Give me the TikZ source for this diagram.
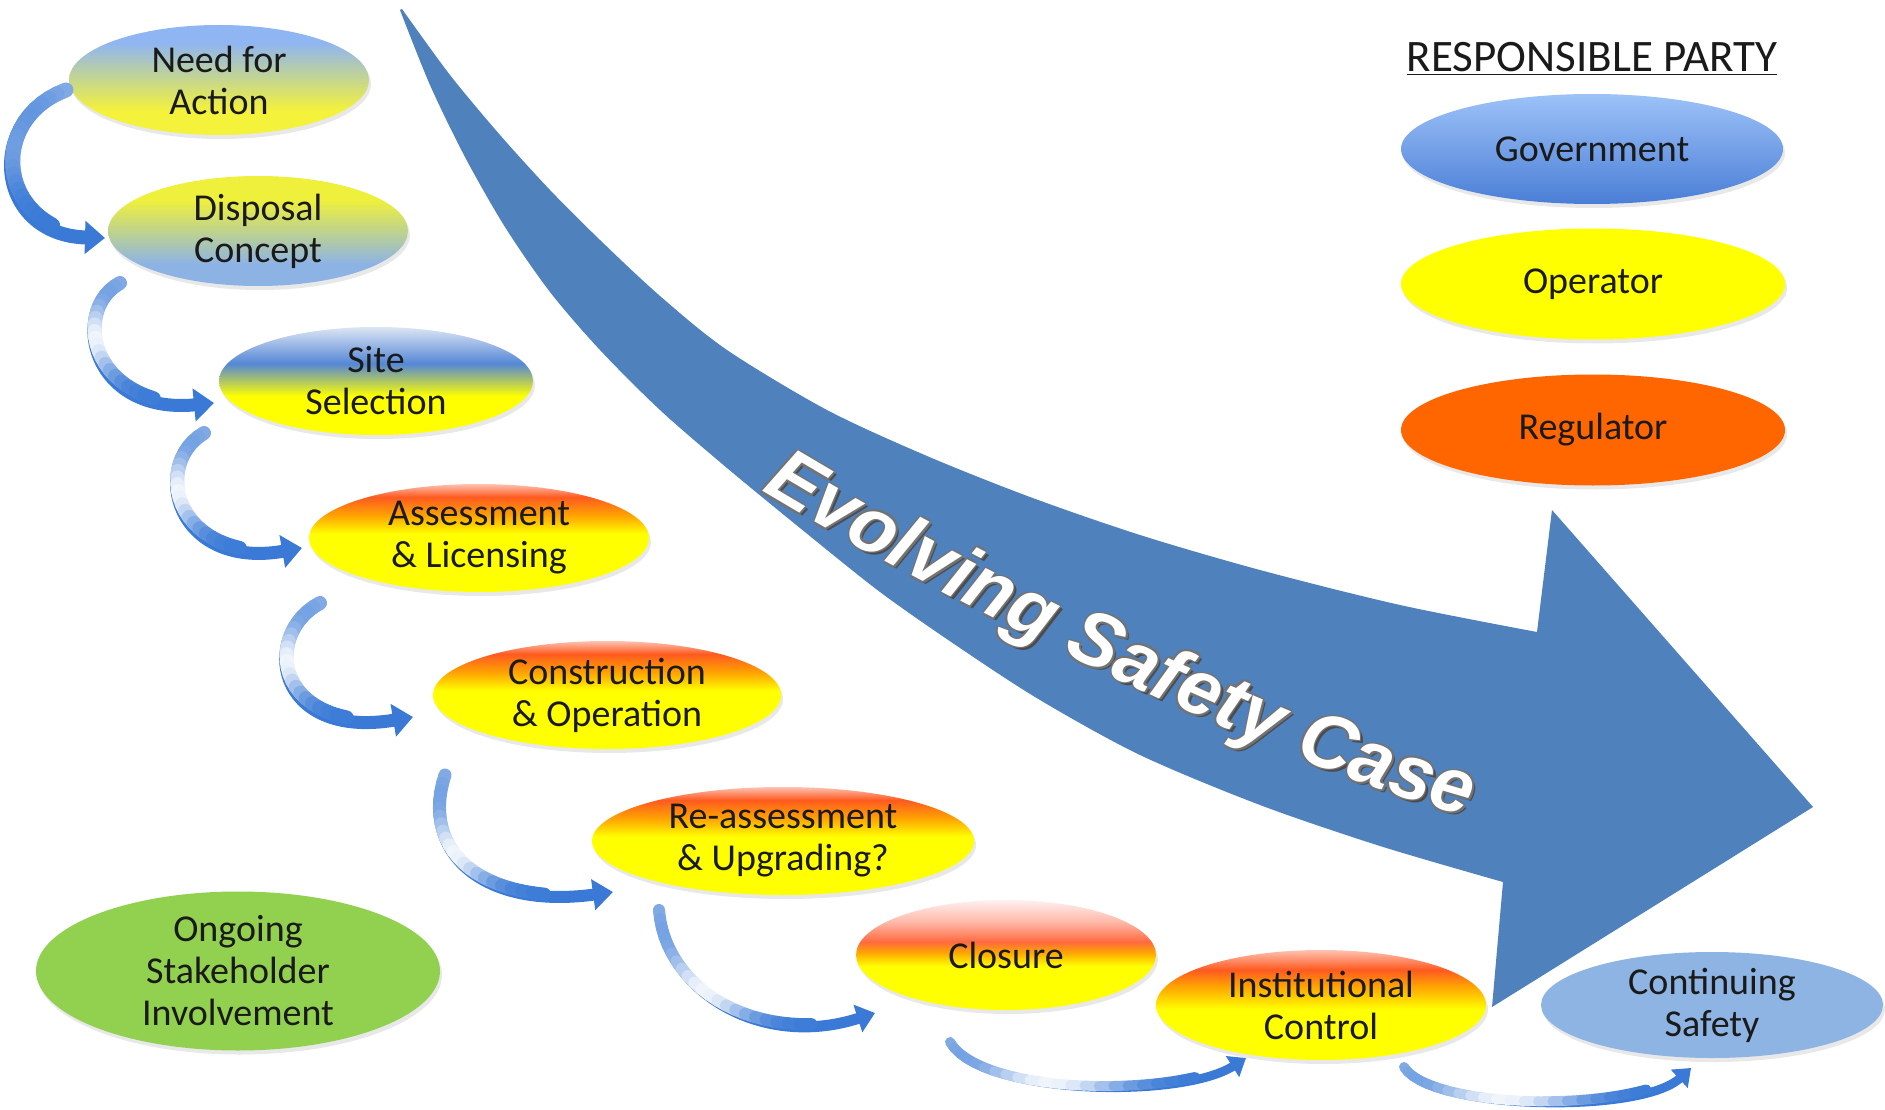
\documentclass[tikz,border=0pt]{standalone}
\usepackage{fontspec}
\setmainfont{Carlito}
\newfontfamily\bigfont{Liberation Sans}
\usetikzlibrary{shapes.geometric,shadows,calc,decorations.text,arrows.meta}

\definecolor{bandblue}{HTML}{4F81BD}
\definecolor{arrblue}{HTML}{3A7AD6}
\definecolor{cY}{HTML}{FFFF00}
\definecolor{nY}{HTML}{F4F23A}
\definecolor{nB}{HTML}{8FB5F2}
\definecolor{dY}{HTML}{EEF03C}
\definecolor{dB}{HTML}{8DB3E5}
\definecolor{sB}{HTML}{5587D5}
\definecolor{sP}{HTML}{DCE5F4}
\definecolor{oO}{HTML}{FFA800}
\definecolor{oR}{HTML}{FF5A20}
\definecolor{oP}{HTML}{FFC2B2}
\definecolor{cR}{HTML}{FF6A40}
\definecolor{cP}{HTML}{FFF0F0}
\definecolor{cPk}{HTML}{FFB8A8}
\definecolor{gB1}{HTML}{4A7ED6}
\definecolor{gB2}{HTML}{9DC2F8}
\definecolor{contB}{HTML}{8EB4E3}
\definecolor{ongG}{HTML}{92D050}
\definecolor{regO}{HTML}{FF6600}
\definecolor{txt}{HTML}{1A1A1A}

\pgfdeclareverticalshading{shNeed}{100bp}{color(0bp)=(nY); color(36bp)=(nY); color(67bp)=(nB); color(100bp)=(nB)}
\pgfdeclareverticalshading{shDisp}{100bp}{color(0bp)=(dB); color(35bp)=(dB); color(64bp)=(dY); color(100bp)=(dY)}
\pgfdeclareverticalshading{shSite}{100bp}{color(0bp)=(cY); color(43bp)=(cY); color(58bp)=(sB); color(75bp)=(sP); color(100bp)=(sP)}
\pgfdeclareverticalshading{shOrange}{100bp}{color(0bp)=(cY); color(52bp)=(cY); color(60bp)=(oO); color(69bp)=(oR); color(75bp)=(oP); color(100bp)=(oP)}
\pgfdeclareverticalshading{shClos}{100bp}{color(0bp)=(cY); color(45bp)=(cY); color(51bp)=(oO); color(56bp)=(cR); color(65bp)=(cPk); color(75bp)=(cP); color(100bp)=(cP)}
\pgfdeclareverticalshading{shInst}{100bp}{color(0bp)=(cY); color(48bp)=(cY); color(58bp)=(oO); color(66bp)=(oR); color(75bp)=(oP); color(100bp)=(oP)}
\pgfdeclareverticalshading{shGov}{100bp}{color(0bp)=(gB1); color(25bp)=(gB1); color(75bp)=(gB2); color(100bp)=(gB2)}

\tikzset{
  stage/.style={ellipse, inner xsep=0pt, inner ysep=-20pt, outer sep=0pt, align=center,
    text=txt, font=\fontsize{38}{42}\selectfont,
    drop shadow={shadow xshift=2pt, shadow yshift=-4pt, opacity=0.18}},
}

% gradient arrow: #1 start, #2 ctrl1 (rel. start), #3 ctrl2 (rel. end), #4 end,
% #5 line width, #6 tip options, #7 fade depth
\newcommand\GradArrow[7]{%
  \draw[draw=arrblue, line width=#5, -{Triangle[#6]}] #1 .. controls +#2 and +#3 .. #4;
  \path #1 .. controls +#2 and +#3 .. #4
     foreach \k in {0,...,21}{coordinate[pos=\k/26] (gp\k)};
  \foreach \k in {0,...,20}{%
    \pgfmathtruncatemacro\kn{\k+1}%
    \pgfmathsetmacro\tt{(\k+0.5)/26}%
    \pgfmathsetmacro\pct{max(5,min(100,100-#7*exp(-((\tt-0.42)/0.19)^2)-38*(1-\tt)^4))}%
    \draw[line width=#5+1pt, line cap=round, draw=arrblue!\pct!white] (gp\k) -- (gp\kn);
  }}

\newcommand\EvText[3]{%
  \begin{scope}[shift={(#2,#3)}]
  \path[decorate,decoration={text along path, text align=center,
     text={|\bigfont\bfseries\itshape\fontsize{77}{77}\selectfont\color{#1}|Evolving Safety Case}}]
     (760,-490) .. controls (933,-595) and (1272,-765) .. (1468,-817);
  \end{scope}}

\begin{document}
\begin{tikzpicture}[x=1pt,y=1pt]
\useasboundingbox (0,0) rectangle (1885,-1110);
\fill[white] (0,0) rectangle (1885,-1110);

% big evolving arrow
\fill[bandblue] plot[smooth] coordinates {(402,-9) (450,-75) (500,-135) (550,-190) (600,-240) (660,-296) (727,-350) (827,-410) (927,-456) (1030,-497) (1140,-535) (1260,-570) (1400,-605) (1537,-632)}
 -- (1552,-510) -- (1813,-807) -- (1492,-1007) -- (1503,-882)
 -- plot[smooth] coordinates {(1503,-882) (1380,-846) (1260,-805) (1140,-755) (1040,-700) (960,-648) (880,-592) (800,-528) (727,-468) (660,-410) (600,-350) (550,-292) (505,-227) (465,-157) (430,-85) (400,-10)} -- cycle;

\EvText{black!70}{3}{-3}
\EvText{black!55}{1.4}{1.4}
\EvText{black!55}{-1.4}{-1.4}
\EvText{black!55}{1.4}{-1.4}
\EvText{black!55}{-1.4}{1.4}
\EvText{white}{0}{0}

% legend
\node[font=\fontsize{45}{48}\selectfont, text=txt, anchor=base] (title) at (1592,-72) {\underline{RESPONSIBLE PARTY}};
\node[stage, shading=shGov, minimum width=382pt, minimum height=110pt] (gov) at (1592,-149) {Government};
\node[stage, fill=cY, minimum width=384pt, minimum height=111pt] (oper) at (1593,-284) {Operator};
\node[stage, fill=regO, minimum width=384pt, minimum height=111pt] (reg) at (1593,-430) {Regulator};

% stages
\node[stage, shading=shNeed, minimum width=300pt, minimum height=110pt] (need) at (219,-80) {Need for\\Action};
\node[stage, shading=shDisp, minimum width=300pt, minimum height=110pt] (disp) at (258,-231) {Disposal\\Concept};
\node[stage, shading=shSite, minimum width=314pt, minimum height=108pt] (site) at (376,-381) {Site\\Selection};
\node[stage, shading=shOrange, minimum width=340pt, minimum height=108pt] (assess) at (479,-538) {Assessment\\\&\ Licensing};
\node[stage, shading=shOrange, minimum width=348pt, minimum height=108pt] (constr) at (607,-695) {Construction\\\&\ Operation};
\node[stage, shading=shOrange, minimum width=382pt, minimum height=108pt] (reass) at (783,-841) {Re-assessment\\\&\ Upgrading?};
\node[stage, shading=shClos, minimum width=300pt, minimum height=110pt] (closure) at (1006,-955) {Closure};
\node[stage, shading=shInst, minimum width=330pt, minimum height=110pt] (inst) at (1321,-1005) {Institutional\\Control};
\node[stage, fill=contB, minimum width=342pt, minimum height=106pt] (cont) at (1712,-1005) {Continuing\\Safety};
\node[stage, fill=ongG, minimum width=404pt, minimum height=159pt] (ongoing) at (238,-971) {Ongoing\\Stakeholder\\Involvement};

% connectors
\GradArrow{($(need)+(-153,-10)$)}{(-81,-30)}{(-110,3)}{($(disp)+(-153,-7)$)}{14pt}{width=32pt,length=20pt}{22}
\GradArrow{($(disp)+(-138,-52)$)}{(-50,-27)}{(-124,-12)}{($(site)+(-162,-22)$)}{13pt}{width=32pt,length=20pt}{88}
\GradArrow{($(site)+(-172,-52)$)}{(-54,-32)}{(-127,-22)}{($(assess)+(-177,-10)$)}{13pt}{width=32pt,length=20pt}{88}
\GradArrow{($(assess)+(-159,-65)$)}{(-60,-32)}{(-138,-23)}{($(constr)+(-194,-22)$)}{13pt}{width=32pt,length=20pt}{88}
\GradArrow{($(constr)+(-162,-80)$)}{(-25,-75)}{(-133,-18)}{($(reass)+(-170,-51)$)}{12pt}{width=30pt,length=20pt}{88}
\GradArrow{($(reass)+(-124,-69)$)}{(6,-80)}{(-115,-37)}{($(closure)+(-131,-58)$)}{11pt}{width=28pt,length=18pt}{88}
\GradArrow{($(closure)+(-56,-87)$)}{(30,-53)}{(-66,-42)}{($(inst)+(-75,-53)$)}{9pt}{width=24pt,length=16pt}{88}
\GradArrow{($(inst)+(83,-62)$)}{(26,-43)}{(-51,-47)}{($(cont)+(-21,-63)$)}{9pt}{width=24pt,length=16pt}{88}
\end{tikzpicture}
\end{document}
